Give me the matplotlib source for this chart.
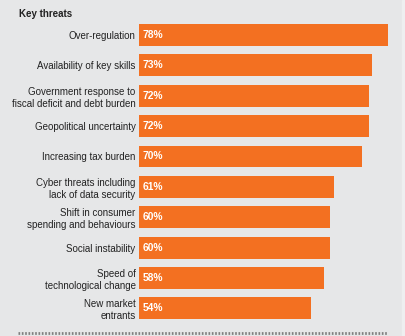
import matplotlib
matplotlib.use('Agg')
import matplotlib.pyplot as plt

labels = ['Over-regulation', 'Availability of key skills',
          'Government response to\nfiscal deficit and debt burden',
          'Geopolitical uncertainty', 'Increasing tax burden',
          'Cyber threats including\nlack of data security',
          'Shift in consumer\nspending and behaviours',
          'Social instability', 'Speed of\ntechnological change',
          'New market\nentrants']
values = [78, 73, 72, 72, 70, 61, 60, 60, 58, 54]

bg = '#e6e7e8'
orange = '#f37021'
plt.rcParams['font.family'] = ['Liberation Sans', 'DejaVu Sans']

W, H = 406, 336
fig = plt.figure(figsize=(W/100, H/100), dpi=100, facecolor=bg)
fig.patches.append(plt.Rectangle((402/W, 0), 4/W, 1, transform=fig.transFigure,
                                 color='#eeeff0', zorder=0))

ax = fig.add_axes([139/W, 1-323.5/H, (402-139)/W, (323.5-19.8)/H])
ax.set_facecolor(bg)
y = list(range(len(values)))
ax.barh(y, values, height=0.72, color=orange, left=0)
ax.set_xlim(0, (402-139)/3.19)
ax.set_ylim(len(values)-0.5, -0.5)
for s in ax.spines.values():
    s.set_visible(False)
ax.set_xticks([])
ax.set_yticks(y)
ax.set_yticklabels(labels, fontsize=7, color='#222222', linespacing=1.25)
ax.tick_params(axis='y', length=0, pad=2.5)
for yi, v in zip(y, values):
    ax.text(1.2, yi, f'{v}%', color='white', fontsize=7.4, fontweight='bold',
            va='center', ha='left')

fig.text(19/W, 1-14/H, 'Key threats', fontsize=7, fontweight='bold',
         color='#222222', va='center', ha='left')
fig.add_artist(plt.Line2D([18/W, 387/W], [1-333/H, 1-333/H], color='#808080',
                          lw=2, ls=(0, (0.6, 0.6)), transform=fig.transFigure))

fig.savefig('out.png', dpi=100, facecolor=bg)
